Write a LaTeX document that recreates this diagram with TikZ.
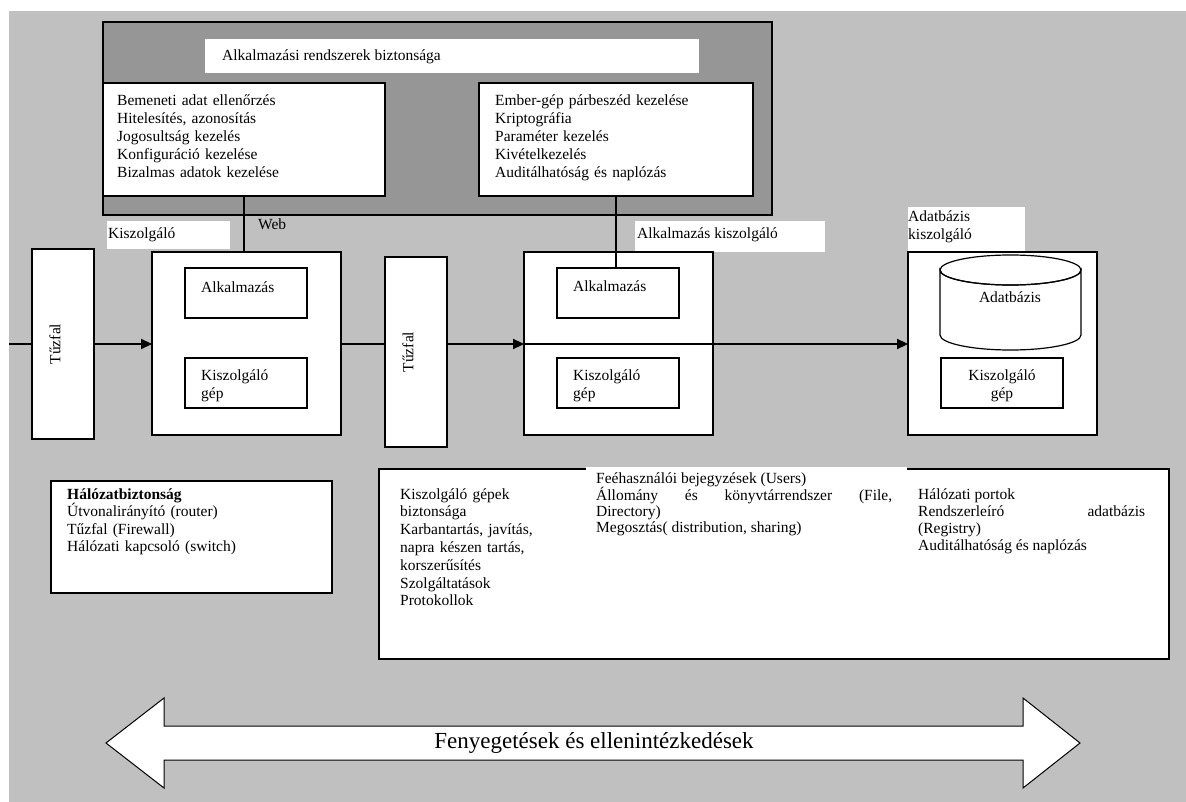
\documentclass[tikz,border=0pt]{standalone}
\usepackage{fontspec}
\setmainfont{Liberation Serif}
\usetikzlibrary{arrows.meta}

\definecolor{sheetgray}{HTML}{C0C0C0}
\definecolor{panelgray}{HTML}{969696}

\tikzset{
	box/.style = {draw, fill = white, line width = 1.2pt, outer sep = 0pt, inner sep = 0pt, anchor = north west},
	tag/.style = {fill = white, inner sep = 0pt, outer sep = 0pt, anchor = north west},
	txt/.style = {inner sep = 0pt, anchor = base west, align = left, font = \fontsize{15.5}{18}\selectfont},
	block/.style = {txt, text width = 300pt},
	flow/.style = {line width = 2.2pt},
	headed/.style = {-{Triangle[length = 11pt, width = 10pt]}}
}

\begin{document}
\begin{tikzpicture}[x = 1pt, y = -1pt]
	\useasboundingbox (0,0) rectangle (1186,802);
	\begin{scope}
		\fill [white] (0,0) rectangle (1186,802);
		\fill [sheetgray] (9,11) rectangle (1186,802);
	\end{scope}
	\begin{scope}
		\node [box, fill = panelgray, minimum width = 669pt, minimum height = 193pt] (panel) at (103,22) {};
		\node [tag, minimum width = 494pt, minimum height = 34pt] (titletag) at (205,39) {};
		\node [txt] (title) at (222,61) {Alkalmazási rendszerek biztonsága};
		\node [box, minimum width = 282pt, minimum height = 113pt] (secL) at (103,83) {};
		\node [box, minimum width = 274pt, minimum height = 113pt] (secR) at (479,83) {};
		\node [block] (secLtxt) at (117,106) {Bemeneti adat ellenőrzés\\Hitelesítés, azonosítás\\Jogosultság kezelés\\Konfiguráció kezelése\\Bizalmas adatok kezelése};
		\node [block] (secRtxt) at (495,106) {Ember-gép párbeszéd kezelése\\Kriptográfia\\Paraméter kezelés\\Kivételkezelés\\Auditálhatóság és naplózás};
	\end{scope}
	\begin{scope}
		\node [tag, minimum width = 123pt, minimum height = 28pt] (webtag) at (107,221) {};
		\node [txt] (webtagtxt) at (108,239) {Kiszolgáló};
		\node [txt] (webtxt) at (258,230) {Web};
		\node [tag, minimum width = 190pt, minimum height = 31pt] (apptag) at (635,221) {};
		\node [txt] (apptagtxt) at (637,239) {Alkalmazás kiszolgáló};
		\node [tag, minimum width = 117pt, minimum height = 45pt] (dbtag) at (908,207) {};
		\node [block] (dbtagtxt) at (908,222) {Adatbázis\\kiszolgáló};
	\end{scope}
	\begin{scope}
		\node [box, minimum width = 62pt, minimum height = 190pt] (fw1) at (32,249) {};
		\node [box, minimum width = 62pt, minimum height = 190pt] (fw2) at (385,257) {};
		\node [txt, anchor = center, rotate = 90] (fw1txt) at ([xshift = -8pt] fw1.center) {Tűzfal};
		\node [txt, anchor = center, rotate = 90] (fw2txt) at ([xshift = -8pt] fw2.center) {Tűzfal};

		\node [box, minimum width = 189pt, minimum height = 183pt] (srv1) at (152,252) {};
		\node [box, minimum width = 122pt, minimum height = 50pt] (app1) at (185,268) {};
		\node [box, minimum width = 122pt, minimum height = 50pt] (host1) at (185,358) {};
		\node [txt] (app1txt) at (201,293) {Alkalmazás};
		\node [block] (host1txt) at (201,380) {Kiszolgáló\\gép};

		\node [box, minimum width = 189pt, minimum height = 183pt] (srv2) at (524,252) {};
		\node [box, minimum width = 122pt, minimum height = 50pt] (app2) at (557,268) {};
		\node [box, minimum width = 122pt, minimum height = 50pt] (host2) at (557,358) {};
		\node [txt] (app2txt) at (573,292) {Alkalmazás};
		\node [block] (host2txt) at (573,380) {Kiszolgáló\\gép};

		\node [box, minimum width = 189pt, minimum height = 183pt] (srv3) at (908,252) {};
		\filldraw [fill = white, line width = 1.2pt] (940,270) -- (940,335) arc [start angle = 180, end angle = 0, x radius = 70.5, y radius = 15] -- (1081,270) arc [start angle = 0, end angle = 180, x radius = 70.5, y radius = 15] -- cycle;
		\draw [line width = 1.2pt] (1010.5,270) ellipse [x radius = 70.5, y radius = 15];
		\node [txt, anchor = base] (dbtxt) at (1010,303) {Adatbázis};
		\node [box, minimum width = 122pt, minimum height = 50pt] (host3) at (941,358) {};
		\node [block, text width = 120pt, anchor = base, align = center] (host3txt) at (1002,380) {Kiszolgáló\\gép};
	\end{scope}
	\begin{scope}
		\node [box, minimum width = 281pt, minimum height = 112pt] (netsec) at (51,481) {};
		\node [block, font = \fontsize{15.5}{17.5}\selectfont] (netsectxt) at (67,499) {\textbf{Hálózatbiztonság}\\Útvonalirányító (router)\\Tűzfal (Firewall)\\Hálózati kapcsoló (switch)};
		\node [box, minimum width = 790pt, minimum height = 190pt] (hostsec) at (379,469) {};
		\node [tag, minimum width = 321pt, minimum height = 70pt] (usertag) at (586,467) {};
		\node [block, text width = 180pt, font = \fontsize{15.5}{17.8}\selectfont] (hosttxt) at (400,499) {Kiszolgáló gépek\\biztonsága\\Karbantartás, javítás,\\napra készen tartás,\\korszerűsítés\\Szolgáltatások\\Protokollok};
		\node [block, text width = 296pt, align = justify, font = \fontsize{15.5}{16}\selectfont] (usertxt) at (596,483) {Feéhasználói bejegyzések (Users)\\Állomány és könyvtárrendszer (File,\linebreak Directory)\\Megosztás( distribution, sharing)};
		\node [block, text width = 227pt, align = justify, font = \fontsize{15.5}{17}\selectfont] (porttxt) at (918,499) {Hálózati portok\\Rendszerleíró adatbázis\linebreak (Registry)\\Auditálhatóság és naplózás};
	\end{scope}
	\begin{scope}
		\draw [fill = white, line width = 1pt] (106,743) -- (164,698) -- (164,726) -- (1023,726) -- (1023,698) -- (1080,743) -- (1023,788) -- (1023,760) -- (164,760) -- (164,788) -- cycle;
		\node [inner sep = 0pt, font = \fontsize{23}{25}\selectfont] (threats) at (594,743) {Fenyegetések és ellenintézkedések};
	\end{scope}
	\begin{scope}
		\coordinate (inlet) at (9,344);
		\draw [flow] (inlet) -- (inlet -| fw1.west);
		\draw [flow, headed] (inlet -| fw1.east) -- (inlet -| srv1.west);
		\draw [flow] (inlet -| srv1.east) -- (inlet -| fw2.west);
		\draw [flow, headed] (inlet -| fw2.east) -- (inlet -| srv2.west);
		\draw [flow, headed] (inlet -| srv2.west) -- (inlet -| srv3.west);
		\draw [line width = 1.2pt] (secL.south) -- (secL.south |- srv1.north);
		\draw [line width = 1.2pt] (secR.south) -- (secR.south |- app2.north);
	\end{scope}
\end{tikzpicture}
\end{document}
